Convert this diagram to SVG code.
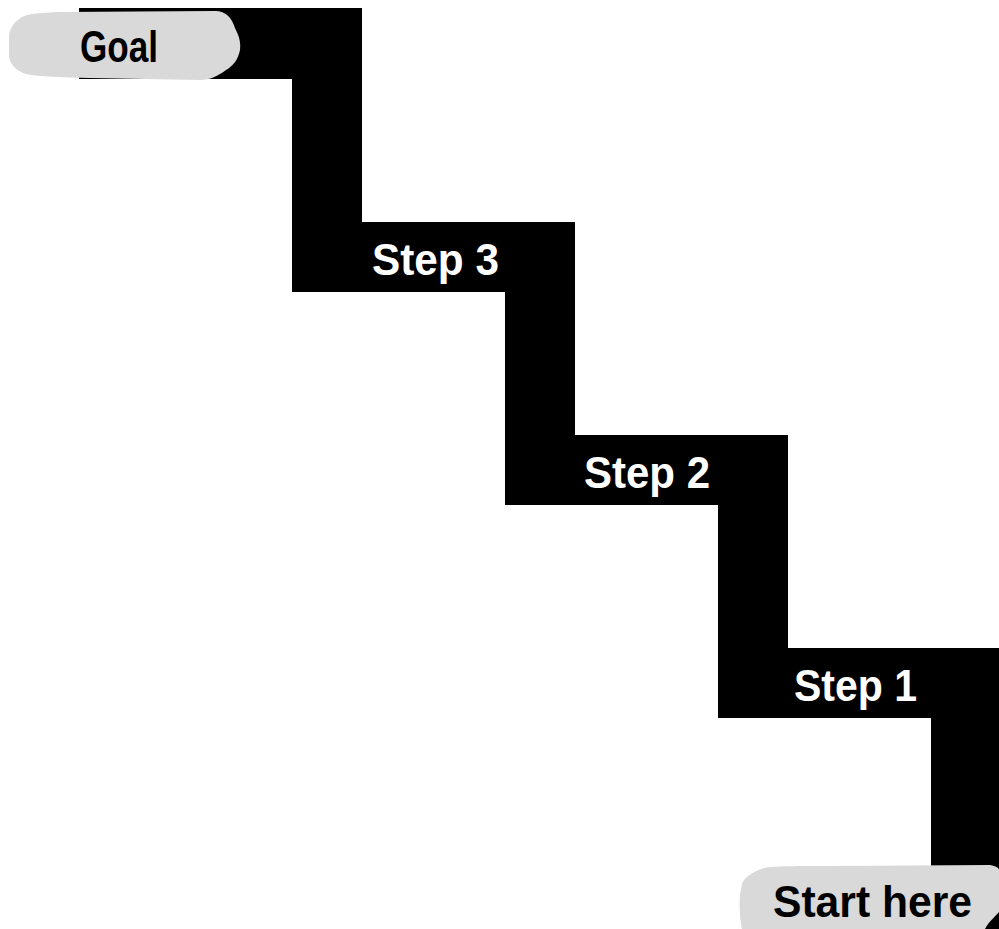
<svg xmlns="http://www.w3.org/2000/svg" width="999" height="929" viewBox="0 0 999 929">
  <style>
    .stair { fill: #000000; }
    .blob { fill: #d9d9d9; }
    .lbl { font-family: "Liberation Sans", "DejaVu Sans", sans-serif; font-weight: bold; font-size: 44px; }
    .white { fill: #ffffff; }
    .dark { fill: #000000; }
  </style>
  <rect x="0" y="0" width="999" height="929" fill="#ffffff"/>
  <g id="staircase">
    <path class="stair" d="M79,8 L362,8 L362,222 L575,222 L575,435 L788,435 L788,648 L999,648 L999,929 L931,929 L931,718 L718,718 L718,505 L505,505 L505,292 L292,292 L292,79 L79,79 Z"/>
  </g>
  <g id="goal">
    <path class="blob" d="M9,36 C10,28 14,22 22,17 C30,13 40,13 60,12 L215,11 C226,11 232,18 235,28 C239,36 241,42 240,50 C238,60 233,66 226,70 C218,76 210,80 200,80 L90,78 C60,77 40,77 26,74 C15,70 10,64 9,56 Z"/>
    <text class="lbl dark" x="80" y="62" font-size="42" textLength="78" lengthAdjust="spacingAndGlyphs">Goal</text>
  </g>
  <g id="step3">
    <text class="lbl white" x="372" y="275" textLength="127" lengthAdjust="spacingAndGlyphs">Step 3</text>
  </g>
  <g id="step2">
    <text class="lbl white" x="584" y="488" textLength="126" lengthAdjust="spacingAndGlyphs">Step 2</text>
  </g>
  <g id="step1">
    <text class="lbl white" x="794" y="701" textLength="123" lengthAdjust="spacingAndGlyphs">Step 1</text>
  </g>
  <g id="start">
    <path class="blob" d="M742,884 C744,878 752,872 764,868 C772,866 800,866 830,866 L990,865 C996,866 999,868 999,870 L999,912 C996,916 990,920 985,929 L742,929 C740,920 739,905 740,895 Z"/>
    <text class="lbl dark" x="773" y="917" font-size="46" textLength="199" lengthAdjust="spacingAndGlyphs">Start here</text>
  </g>
</svg>
